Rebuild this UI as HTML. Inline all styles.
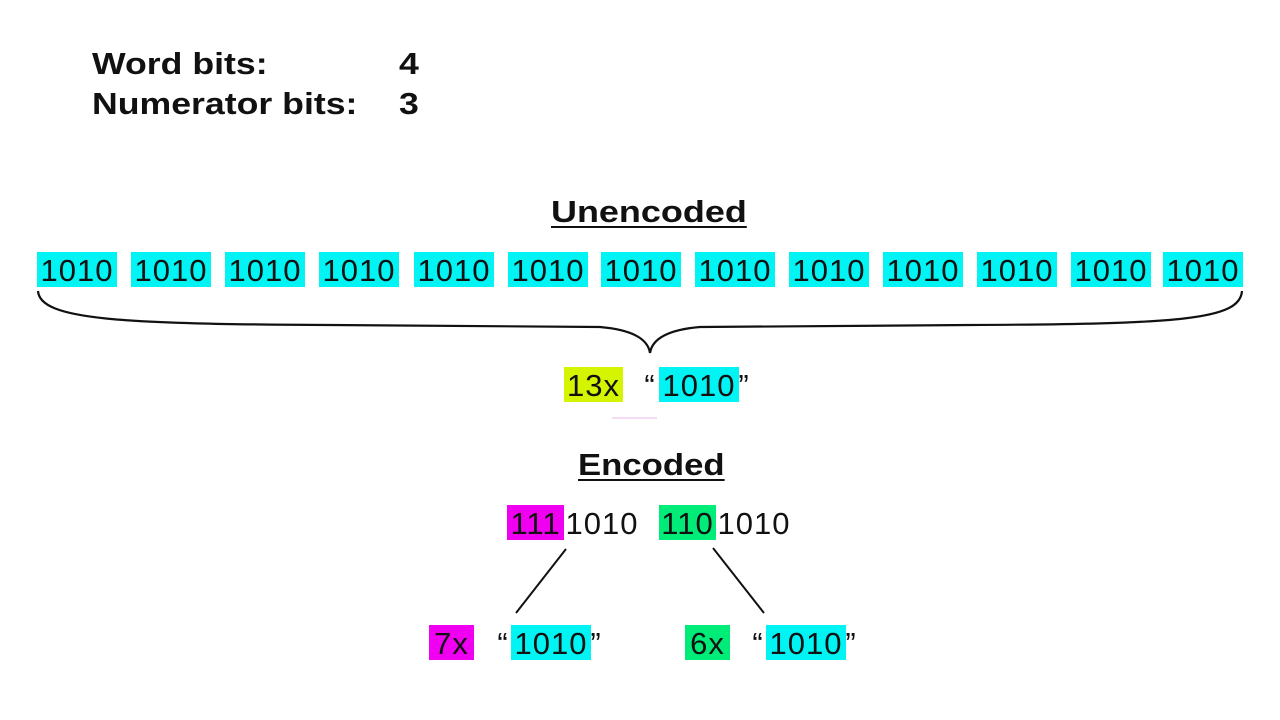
<!DOCTYPE html>
<html><head><meta charset="utf-8"><style>
body{margin:0;width:1280px;height:720px;background:#fff;position:relative;overflow:hidden;font-family:"Liberation Sans",sans-serif;color:#111}
.a{position:absolute;white-space:nowrap;transform-origin:0 0}
.b{position:absolute;height:35px;line-height:37px;font-size:31px;text-align:center;white-space:nowrap;letter-spacing:1px}
.c{background:#00f4f4}
.h{font-weight:bold;font-size:31px;transform:scaleX(1.15)}
.u{font-weight:bold;font-size:31px;text-decoration:underline;text-underline-offset:4px;text-decoration-thickness:2px}
</style></head><body>
<div class="a h" style="left:92px;top:46px">Word bits:</div>
<div class="a h" style="left:399px;top:46px">4</div>
<div class="a h" style="left:92px;top:86px">Numerator bits:</div>
<div class="a h" style="left:399px;top:86px">3</div>

<div class="a u" style="left:551px;top:194px;transform:scaleX(1.16)">Unencoded</div>

<div class="b c" style="left:37px;top:252px;width:80px">1010</div>
<div class="b c" style="left:131px;top:252px;width:80px">1010</div>
<div class="b c" style="left:225px;top:252px;width:80px">1010</div>
<div class="b c" style="left:319px;top:252px;width:80px">1010</div>
<div class="b c" style="left:414px;top:252px;width:80px">1010</div>
<div class="b c" style="left:508px;top:252px;width:80px">1010</div>
<div class="b c" style="left:601px;top:252px;width:80px">1010</div>
<div class="b c" style="left:695px;top:252px;width:80px">1010</div>
<div class="b c" style="left:789px;top:252px;width:80px">1010</div>
<div class="b c" style="left:883px;top:252px;width:80px">1010</div>
<div class="b c" style="left:977px;top:252px;width:80px">1010</div>
<div class="b c" style="left:1071px;top:252px;width:80px">1010</div>
<div class="b c" style="left:1163px;top:252px;width:80px">1010</div>

<svg class="a" style="left:0;top:0" width="1280" height="720">
<path d="M38 291 C40 320 120 324 330 325 L600 327 C635 330 648 340 650 353 C652 340 665 330 700 327 L970 325 C1180 324 1240 320 1242 291" fill="none" stroke="#111" stroke-width="2.2"/>
<line x1="612" y1="418" x2="657" y2="418" stroke="#f4dcf4" stroke-width="2"/>
<line x1="566" y1="549" x2="516" y2="613" stroke="#111" stroke-width="2"/>
<line x1="713" y1="548" x2="764" y2="613" stroke="#111" stroke-width="2"/>
</svg>

<div class="b" style="left:564px;top:367px;width:59px;background:#d4f400">13x</div>
<div class="b" style="left:640px;top:367px;width:20px">“</div>
<div class="b c" style="left:659px;top:367px;width:80px">1010</div>
<div class="b" style="left:737px;top:367px;width:14px">”</div>

<div class="a u" style="left:578px;top:447px;transform:scaleX(1.12)">Encoded</div>

<div class="b" style="left:507px;top:505px;width:57px;background:#f000f0">111</div>
<div class="b" style="left:564px;top:505px;width:76px">1010</div>
<div class="b" style="left:659px;top:505px;width:57px;background:#00ec78">110</div>
<div class="b" style="left:716px;top:505px;width:76px">1010</div>

<div class="b" style="left:429px;top:625px;width:45px;background:#f000f0">7x</div>
<div class="b" style="left:493px;top:625px;width:20px">“</div>
<div class="b c" style="left:511px;top:625px;width:80px">1010</div>
<div class="b" style="left:589px;top:625px;width:14px">”</div>

<div class="b" style="left:685px;top:625px;width:45px;background:#00ec78">6x</div>
<div class="b" style="left:748px;top:625px;width:20px">“</div>
<div class="b c" style="left:766px;top:625px;width:80px">1010</div>
<div class="b" style="left:844px;top:625px;width:14px">”</div>
</body></html>
